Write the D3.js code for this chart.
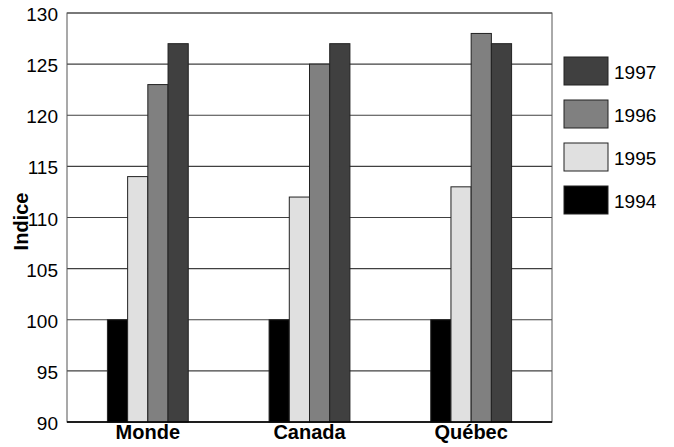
<!DOCTYPE html>
<html>
<head>
<meta charset="utf-8">
<script src="https://cdn.jsdelivr.net/npm/d3@7"></script>
<style>
  html, body { margin: 0; padding: 0; background: #fff; }
  svg { display: block; font-family: "Liberation Sans", Arial, sans-serif; }
</style>
</head>
<body>
<svg id="chart" width="674" height="447"></svg>
<script>
// Index values by region and year
const categories = ["Monde", "Canada", "Québec"];
const years = ["1994", "1995", "1996", "1997"];
const values1994 = [100, 100, 100];
const values1995 = [114, 112, 113];
const values1996 = [123, 125, 128];
const values1997 = [127, 127, 127];
const yTicks = [90, 95, 100, 105, 110, 115, 120, 125, 130];
const yTitle = "Indice";
const legendOrder = ["1997", "1996", "1995", "1994"];

const seriesValues = { "1994": values1994, "1995": values1995, "1996": values1996, "1997": values1997 };
const colors = { "1994": "#000000", "1995": "#e0e0e0", "1996": "#808080", "1997": "#404040" };

const svg = d3.select("#chart");
const plot = { left: 67, top: 13, right: 552, bottom: 422 };

const x = d3.scaleBand().domain(categories).range([plot.left, plot.right]).paddingInner(0).paddingOuter(0);
const xInner = d3.scaleBand().domain(years).range([0, x.bandwidth() / 2]);
const y = d3.scaleLinear().domain([90, 130]).range([plot.bottom, plot.top]);

// Horizontal gridlines
svg.append("g")
  .selectAll("line")
  .data(yTicks)
  .join("line")
  .attr("x1", plot.left).attr("x2", plot.right)
  .attr("y1", d => y(d)).attr("y2", d => y(d))
  .attr("stroke", "#404040").attr("stroke-width", 1.2);

// Plot frame
svg.append("rect")
  .attr("x", plot.left).attr("y", plot.top)
  .attr("width", plot.right - plot.left).attr("height", plot.bottom - plot.top)
  .attr("fill", "none").attr("stroke", "#555").attr("stroke-width", 1);

// Bars
const groups = svg.append("g").selectAll("g")
  .data(categories)
  .join("g")
  .attr("transform", d => `translate(${x(d) + x.bandwidth() / 4},0)`);

groups.selectAll("rect")
  .data((c, i) => years.map(yr => ({ year: yr, value: seriesValues[yr][i] })))
  .join("rect")
  .attr("x", d => xInner(d.year))
  .attr("width", xInner.bandwidth())
  .attr("y", d => y(d.value))
  .attr("height", d => y(90) - y(d.value))
  .attr("fill", d => colors[d.year])
  .attr("stroke", "#222").attr("stroke-width", 1);

// Bottom axis line
svg.append("line")
  .attr("x1", plot.left).attr("x2", plot.right)
  .attr("y1", plot.bottom).attr("y2", plot.bottom)
  .attr("stroke", "#000").attr("stroke-width", 1.5);

// Y tick labels
const yAxis = d3.axisLeft(y).tickValues(yTicks).tickSize(0).tickPadding(9);
const yg = svg.append("g").attr("transform", `translate(${plot.left},0)`).call(yAxis);
yg.select(".domain").remove();
yg.selectAll("text")
  .attr("font-family", "'Liberation Sans', Arial, sans-serif")
  .attr("dy", "0.4em")
  .attr("font-size", 19).attr("fill", "#000");

// Category labels
const xAxis = d3.axisBottom(x).tickSize(0).tickPadding(3);
const xg = svg.append("g").attr("transform", `translate(0,${plot.bottom})`).call(xAxis);
xg.select(".domain").remove();
xg.selectAll("text")
  .attr("font-family", "'Liberation Sans', Arial, sans-serif")
  .attr("font-size", 20).attr("font-weight", "bold").attr("fill", "#000");

// Y axis title
svg.append("text")
  .attr("transform", `translate(28,${(plot.top + plot.bottom) / 2 + 4}) rotate(-90)`)
  .attr("text-anchor", "middle")
  .attr("font-size", 20).attr("font-weight", "bold")
  .text(yTitle);

// Legend
const legend = svg.append("g").selectAll("g")
  .data(legendOrder)
  .join("g")
  .attr("transform", (d, i) => `translate(564,${57 + i * 43})`);
legend.append("rect")
  .attr("width", 44).attr("height", 28)
  .attr("fill", d => colors[d])
  .attr("stroke", "#222").attr("stroke-width", 1);
legend.append("text")
  .attr("x", 50).attr("y", 22)
  .attr("font-size", 19)
  .text(d => d);
</script>
</body>
</html>
